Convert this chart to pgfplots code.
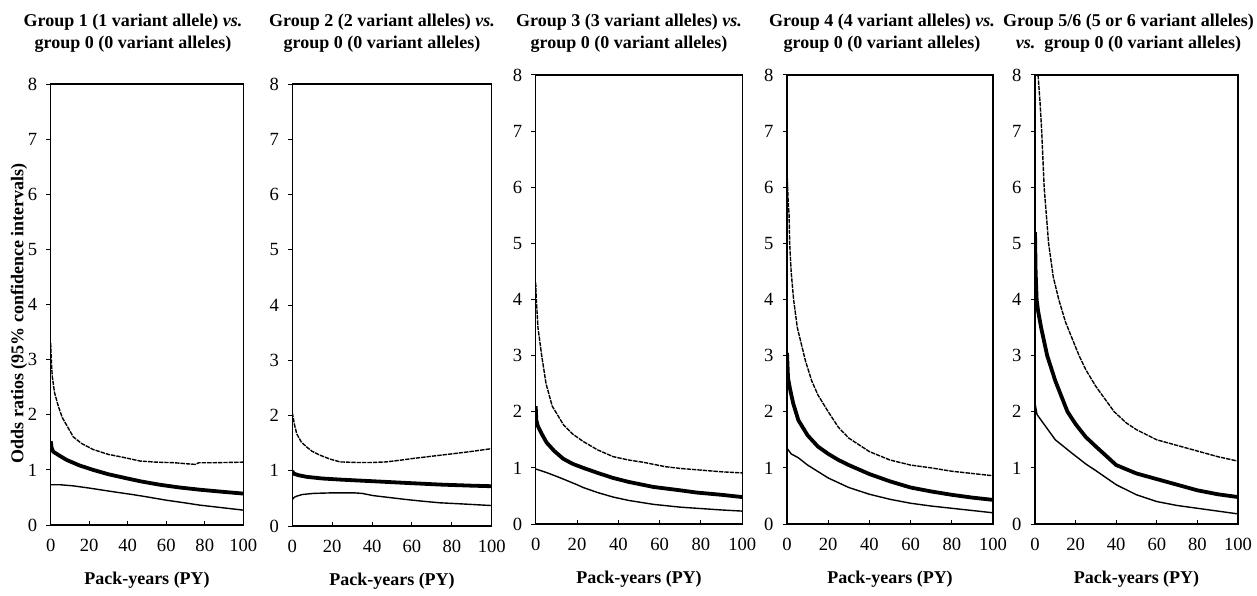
\documentclass[border=0pt]{standalone}
\usepackage{fontspec}
\setmainfont{Liberation Serif}
\usepackage{pgfplots}
\pgfplotsset{compat=1.18}

% 1 px of the reference = 0.5pt
\pgfplotsset{
  orpanel/.style={
    scale only axis,
    xmin=0, xmax=100, ymin=0, ymax=8,
    xtick={0,20,...,100}, ytick={0,1,...,8},
    tick pos=left,
    xtick align=inside, ytick align=outside,
    major tick length=2.2pt,
    axis line style={line width=0.6pt},
    tick style={line width=0.5pt, black},
    /pgf/number format/assume math mode=true,
    tick label style={font=\fontsize{9.3}{10}\selectfont},
    xticklabel style={yshift=-3.5pt},
    yticklabel style={xshift=-1pt},
    xlabel={\textbf{Pack-years (PY)}},
    xlabel style={font=\fontsize{9}{10}\selectfont, at={(axis description cs:0.5,0)},
                  anchor=center, yshift=-27.5pt},
    title style={font=\fontsize{9}{11}\selectfont\bfseries, align=center,
                 at={(axis description cs:0.5,1)}, anchor=center},
    clip=true,
  },
  ormid/.style={black, line width=1.9pt, line join=round},
  orup/.style={black, line width=0.7pt, dash pattern=on 2.2pt off 0.5pt},
  orlo/.style={black, line width=0.7pt},
}

\begin{document}
\begin{tikzpicture}
\path[use as bounding box] (0,0) rectangle (628.5pt,297.5pt);

% ---------- panel 1 ----------
\begin{axis}[orpanel, at={(25.35pt,35pt)}, width=96.3pt, height=220.5pt,
  title={Group 1 (1 variant allele) \textit{vs.}\\group 0 (0 variant alleles)},
  title style={xshift=-7pt, yshift=19.5pt},
  ylabel={\mbox{\textbf{Odds ratios (95\% confidence intervals)}}},
  ylabel style={font=\fontsize{9}{10}\selectfont, at={(axis description cs:-0.165,0.48)},
                anchor=center}]
\addplot[orup] coordinates {(0,3.3) (0.3,3.0) (0.8,2.7) (2,2.4) (4,2.15) (6,1.95)
  (11.7,1.6) (16,1.48) (22,1.37) (30,1.28) (36,1.24) (46.5,1.16) (55,1.14) (64,1.13)
  (71,1.11) (75,1.1) (77,1.13) (85,1.13) (100,1.14)};
\addplot[ormid] coordinates {(0,1.52) (0.5,1.4) (1.3,1.33) (4,1.27) (8.3,1.18) (15,1.08)
  (22,1.0) (30,0.92) (39,0.85) (47,0.79) (56.7,0.73) (67,0.68) (77.5,0.64) (90,0.6) (100,0.57)};
\addplot[orlo] coordinates {(0,0.73) (5,0.73) (11.7,0.71) (20,0.67) (25.6,0.64) (35,0.59)
  (43,0.55) (50,0.51) (60,0.45) (70,0.4) (77.5,0.36) (90,0.31) (100,0.27)};
\end{axis}

% ---------- panel 2 ----------
\begin{axis}[orpanel, at={(146.15pt,34.5pt)}, width=99.7pt, height=221pt,
  title={Group 2 (2 variant alleles) \textit{vs.}\\group 0 (0 variant alleles)},
  title style={xshift=-5pt, yshift=19.5pt}]
\addplot[orup] coordinates {(0,2.05) (1,1.85) (2.2,1.67) (4.5,1.52) (7.2,1.43) (10,1.35)
  (14,1.28) (19,1.21) (24,1.16) (32,1.15) (40.6,1.15) (47,1.16) (54,1.19) (60,1.22)
  (67,1.25) (74,1.28) (81,1.31) (90,1.35) (100,1.4)};
\addplot[ormid] coordinates {(0,1.0) (0.5,0.95) (3,0.92) (7.2,0.89) (15,0.86) (24,0.84)
  (40.6,0.81) (57,0.78) (74,0.75) (90,0.73) (100,0.72)};
\addplot[orlo] coordinates {(0,0.48) (1,0.52) (2.2,0.54) (5,0.57) (10.5,0.59) (20,0.6)
  (31,0.6) (35,0.59) (40.6,0.55) (50,0.51) (57,0.48) (65,0.45) (74,0.42) (85,0.4) (100,0.37)};
\end{axis}

% ---------- panel 3 ----------
\begin{axis}[orpanel, at={(267.85pt,35.5pt)}, width=103.3pt, height=224.5pt,
  title={Group 3 (3 variant alleles) \textit{vs.}\\group 0 (0 variant alleles)},
  title style={xshift=-5pt, yshift=15pt}]
\addplot[orup] coordinates {(0,4.3) (0.3,4.0) (1.1,3.5) (2.9,3.0) (5,2.5) (8,2.1)
  (13.4,1.77) (18,1.6) (23,1.47) (30,1.32) (37.5,1.2) (45,1.14) (52,1.1) (63,1.02)
  (70,0.99) (80,0.96) (90,0.93) (100,0.91)};
\addplot[ormid] coordinates {(0,2.1) (0.3,1.85) (1,1.75) (3,1.6) (5.3,1.45) (9,1.3)
  (13.4,1.16) (18,1.07) (23,1.0) (30,0.91) (37.5,0.82) (45,0.75) (57,0.66) (70,0.6)
  (78,0.56) (90,0.52) (100,0.48)};
\addplot[orlo] coordinates {(0,0.98) (5,0.92) (10,0.85) (13.4,0.8) (20,0.7) (23,0.65)
  (30,0.56) (37.5,0.48) (45,0.42) (57,0.35) (70,0.3) (78,0.28) (90,0.25) (100,0.23)};
\end{axis}

% ---------- panel 4 ----------
\begin{axis}[orpanel, at={(393.5pt,35.5pt)}, width=103pt, height=224.5pt,
  title={Group 4 (4 variant alleles) \textit{vs.}\\group 0 (0 variant alleles)},
  title style={xshift=-4pt, yshift=15pt}]
\addplot[orup] coordinates {(0,6.3) (0.5,5.8) (1,5.5) (1.3,5.0) (2,4.5) (3.2,4.0)
  (5,3.5) (9,2.9) (12,2.55) (15,2.3) (20,2.0) (25,1.72) (30,1.53) (40,1.29) (50,1.14)
  (60,1.05) (70,1.0) (80,0.94) (90,0.9) (100,0.86)};
\addplot[ormid] coordinates {(0,3.05) (0.5,2.6) (1.5,2.4) (3,2.15) (5.5,1.85) (10,1.58)
  (15,1.38) (20,1.25) (25,1.14) (30,1.05) (40,0.89) (50,0.76) (60,0.65) (70,0.58)
  (80,0.52) (90,0.47) (100,0.43)};
\addplot[orlo] coordinates {(0,1.35) (2,1.25) (5.5,1.18) (10,1.05) (20,0.82) (30,0.65)
  (40,0.53) (50,0.44) (60,0.37) (70,0.32) (80,0.28) (90,0.24) (100,0.2)};
\end{axis}

% ---------- panel 5 ----------
\begin{axis}[orpanel, at={(517.5pt,35.5pt)}, width=101.5pt, height=224.5pt,
  title={Group 5/6 (5 or 6 variant alleles)\\\textit{vs.}\ \ group 0 (0 variant alleles)},
  title style={xshift=-4pt, yshift=15pt}]
\addplot[orup] coordinates {(1.5,8.0) (2.5,7.5) (3.3,7.0) (4.5,6.0) (6.7,5.0) (9,4.4)
  (11.7,4.0) (15,3.6) (21.7,3.0) (25,2.75) (30,2.45) (39,2.0) (45,1.8) (50,1.68)
  (60,1.5) (70,1.4) (80,1.3) (90,1.2) (100,1.12)};
\addplot[ormid] coordinates {(0,5.2) (0.3,4.5) (0.8,4.0) (1.5,3.8) (3,3.5) (6,3.0)
  (10,2.55) (16,2.0) (20,1.78) (25,1.55) (30,1.38) (40,1.05) (50,0.9) (60,0.8)
  (70,0.7) (80,0.6) (90,0.53) (100,0.48)};
\addplot[orlo] coordinates {(0,2.15) (1,1.95) (3,1.85) (7,1.65) (10,1.5) (18.6,1.25)
  (25,1.07) (30,0.95) (40,0.7) (50,0.52) (60,0.4) (70,0.33) (80,0.28) (90,0.23) (100,0.18)};
\end{axis}
\end{tikzpicture}
\end{document}
